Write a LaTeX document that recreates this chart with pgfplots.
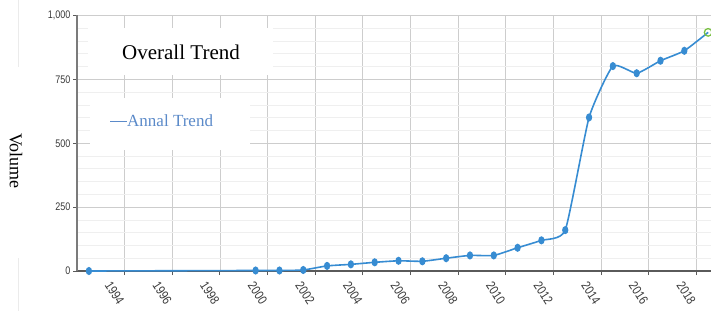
\documentclass[border=0pt]{standalone}
\usepackage{pgfplots}
\pgfplotsset{compat=1.18}
\usepackage{fontspec}
\setmainfont{Liberation Serif}
\newfontfamily\tickfont[FakeStretch=0.82]{Liberation Sans}
\definecolor{lineblue}{HTML}{378CD2}
\definecolor{legblue}{HTML}{5B8AC9}
\definecolor{markgreen}{HTML}{7AC143}
\definecolor{majgrid}{HTML}{CDCDCD}
\definecolor{mingrid}{HTML}{EFEFEF}
\definecolor{axisgray}{HTML}{5A5A5A}
\pgfplotstableread{
x y
1992.5 0
1999.5 2
2000.5 2
2001.5 4
2002.5 20
2003.5 26
2004.5 34
2005.5 40
2006.5 38
2007.5 50
2008.5 61
2009.5 61
2010.5 91
2011.5 120
2012.5 160
2013.5 601
2014.5 802
2015.5 774
2016.5 823
2017.5 862
2018.5 934
}\trend
\begin{document}
\begin{tikzpicture}[x=1pt,y=1pt]
\begin{axis}[
  at={(77pt,40pt)}, anchor=south west,
  scale only axis, width=634pt, height=255.5pt,
  xmin=1992, xmax=2018.62, ymin=0, ymax=1000,
  axis lines*=left,
  x axis line style={draw=axisgray, line width=1.6pt},
  y axis line style={draw=axisgray!80, line width=1.2pt},
  xtick={1994,1996,...,2018},
  ytick={0,250,500,750,1000},
  minor ytick={50,100,...,950},
  grid=both,
  major grid style={draw=majgrid, line width=0.8pt},
  minor grid style={draw=mingrid, line width=0.8pt},
  tick align=outside,
  major tick length=4pt,
  minor tick length=0pt,
  tick style={draw=axisgray, line width=0.9pt},
  /pgf/number format/assume math mode=true,
  yticklabel style={font=\tickfont\fontsize{11}{11}\selectfont, text=black!78,
    /pgf/number format/1000 sep={,}, xshift=1pt},
  xticklabel style={font=\tickfont\fontsize{13}{13}\selectfont, text=black!78,
    /pgf/number format/1000 sep={}, anchor=center, xshift=-10pt, yshift=-18pt, rotate=-57},
]
\addplot[color=lineblue, line width=1.6pt, smooth, tension=0.3,
  mark=*, mark size=3.2pt, mark indices={1,...,20},
  mark options={xscale=0.72, fill=lineblue, draw=lineblue}]
  table[x=x, y=y] {\trend};
\addplot[only marks, mark=o, mark size=3.8pt,
  mark options={draw=markgreen, fill=white, line width=1.3pt}]
  coordinates {(2018.5,934)};
\end{axis}
\fill[white] (88,236) rectangle (273,283);
\node[font=\fontsize{21}{21}\selectfont, text=black] at (181,259) {Overall Trend};
\fill[white] (90,161) rectangle (250,213);
\node[font=\fontsize{17}{17}\selectfont, text=legblue, anchor=west, inner sep=0pt] at (110,190) {\rule[0.32em]{1em}{0.6pt}Annal Trend};
\node[font=\fontsize{18}{18}\selectfont, rotate=-90] at (16,150) {Volume};
\draw[black!8] (18,311) -- (18,244);
\draw[black!8] (18,53) -- (18,0);
\pgfresetboundingbox
\path[use as bounding box] (0,0) rectangle (711,311);
\end{tikzpicture}
\end{document}
